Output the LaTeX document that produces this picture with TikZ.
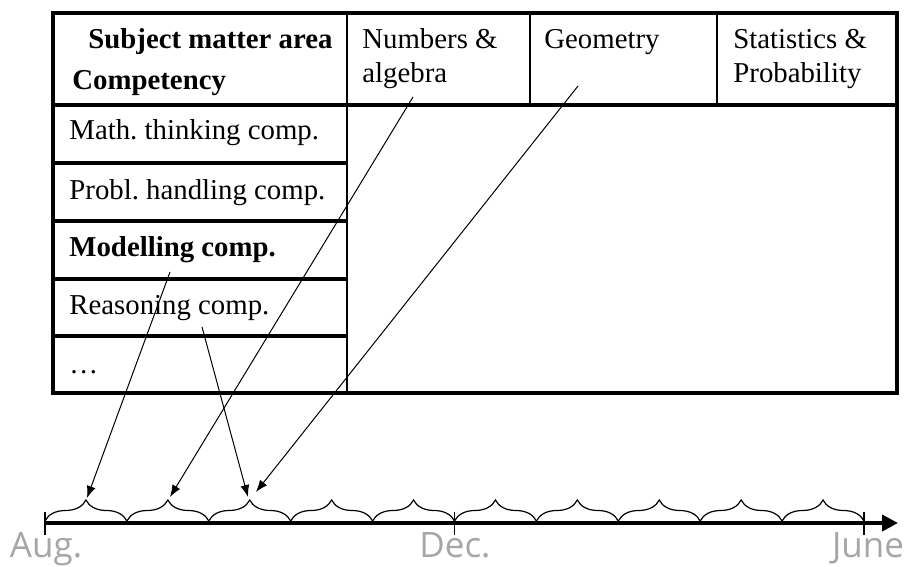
\documentclass[tikz,border=0pt]{standalone}
\usepackage{fontspec}
\setmainfont{Liberation Serif}
\newfontfamily\monthfont{Open Sans}
\usetikzlibrary{arrows.meta, decorations.pathreplacing}
\definecolor{monthgray}{HTML}{A6A6A6}
\frenchspacing

\tikzset{
  cell/.style={anchor=base west, inner sep=0pt,
    font=\fontsize{14.4}{17}\selectfont},
  month/.style={anchor=base, inner sep=0pt, text=monthgray,
    font=\monthfont\fontsize{17.5}{20}\selectfont},
  thickrule/.style={line width=1.6pt},
  thinrule/.style={line width=0.7pt},
  pointer/.style={line width=0.5pt, -{Latex[length=6pt, width=4.5pt]}},
  span/.style={line width=0.6pt, decorate,
    decoration={brace, amplitude=10.5pt}}
}

\begin{document}
\begin{tikzpicture}[x=0.5pt, y=-0.5pt]
        \useasboundingbox (0, 0) rectangle (907, 567);
        % table
        \draw[thinrule] (347, 13) -- (347, 393);
        \draw[thinrule] (530, 13) -- (530, 105);
        \draw[thinrule] (717, 13) -- (717, 105);
        \foreach \y in {163, 221, 279, 336}
          \draw[thickrule] (53, \y) -- (347, \y);
        \draw[thickrule] (53, 105) -- (897, 105);
        \draw[thickrule] (53, 13) rectangle (897, 393);
        % header
        \node[cell] (subj) at (88, 49) {\textbf{Subject matter area}};
        \node[cell] (comp) at (72, 90) {\textbf{Competency}};
        \node[cell] (numa) at (362, 49) {Numbers \&};
        \node[cell] (numb) at (362, 83) {algebra};
        \node[cell] (geo) at (544, 49) {Geometry};
        \node[cell] (stata) at (733, 49) {Statistics \&};
        \node[cell] (statb) at (733, 83) {Probability};
        % competencies
        \node[cell] (think) at (69, 140) {Math. thinking comp.};
        \node[cell] (probl) at (69, 200) {Probl. handling comp.};
        \node[cell] (model) at (69, 257) {\textbf{Modelling comp.}};
        \node[cell] (reas) at (69, 315) {Reasoning comp.};
        \node[cell] (more) at (69, 374) {\dots};
        % time axis
        \foreach \i in {0, ..., 10}
          \coordinate (t\i) at ({45 + 81.9*\i}, 521);
        \draw[line width=2pt, -{Triangle[length=8pt, width=8pt]}]
          (45, 523) -- (898, 523);
        \foreach \x in {45, 454.5, 864}
          \draw[line width=0.6pt] (\x, 512) -- (\x, 535);
        \foreach \j [remember=\j as \i (initially 0)] in {1, ..., 10}
          \draw[span] (t\i) -- (t\j);
        \node[month] (aug) at (46, 558) {Aug.};
        \node[month] (dec) at (455, 558) {Dec.};
        \node[month] (june) at (868, 558) {June};
        % links
        \coordinate (modS) at (170, 272);
        \coordinate (reaS) at (202, 327);
        \coordinate (numS) at (413, 97);
        \coordinate (geoS) at (578, 86);
        \coordinate (b1) at (87, 498);
        \coordinate (b2) at (170, 497);
        \coordinate (b3) at (248, 497);
        \coordinate (b3g) at (256, 492);
        \draw[pointer] (modS) -- (b1);
        \draw[pointer] (numS) -- (b2);
        \draw[pointer] (reaS) -- (b3);
        \draw[pointer] (geoS) -- (b3g);
      \end{tikzpicture}
\end{document}
